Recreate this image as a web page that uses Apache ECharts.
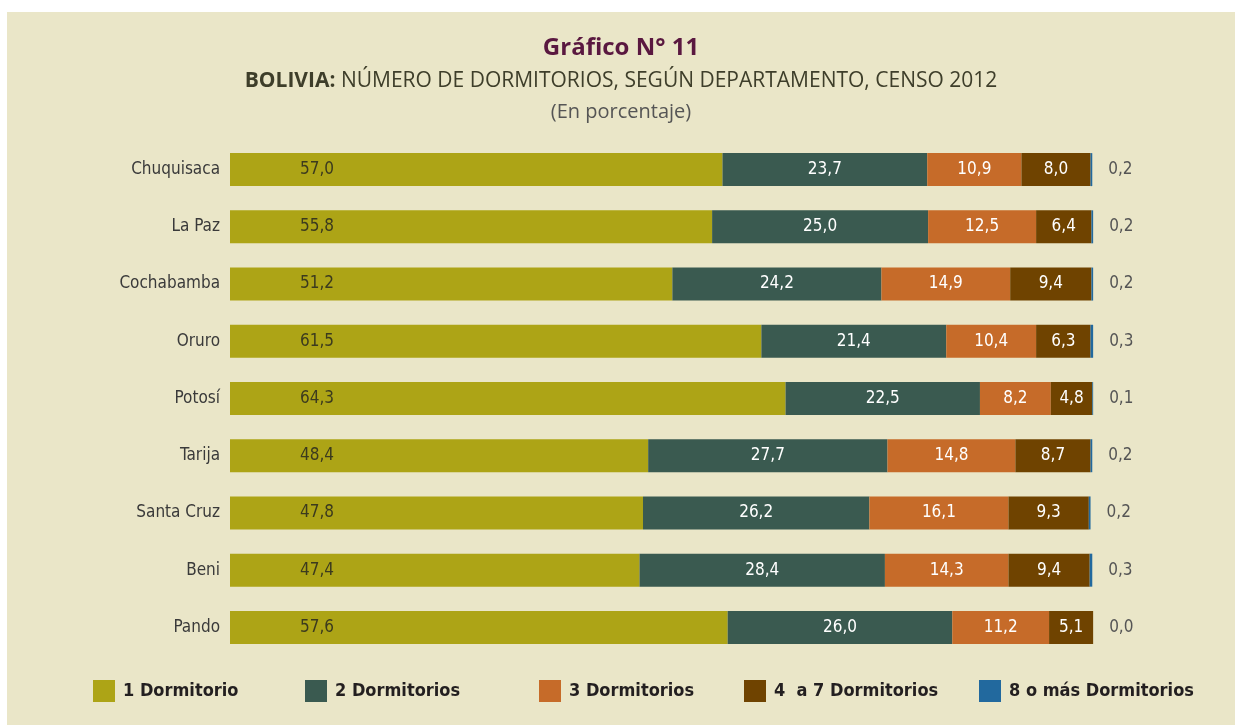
<!DOCTYPE html>
<html><head><meta charset="utf-8">
<script src="https://cdn.jsdelivr.net/npm/echarts@6/dist/echarts.min.js"></script>
<style>html,body{margin:0;padding:0;background:#fff}#c{width:1242px;height:725px}</style>
</head><body><div id="c"></div>
<script>
const categories = ['Chuquisaca','La Paz','Cochabamba','Oruro','Potosí','Tarija','Santa Cruz','Beni','Pando'];
const seriesNames = ['1 Dormitorio','2 Dormitorios','3 Dormitorios','4  a 7 Dormitorios','8 o más Dormitorios'];
const d1 = [57.0,55.8,51.2,61.5,64.3,48.4,47.8,47.4,57.6];
const d2 = [23.7,25.0,24.2,21.4,22.5,27.7,26.2,28.4,26.0];
const d3 = [10.9,12.5,14.9,10.4,8.2,14.8,16.1,14.3,11.2];
const d4 = [8.0,6.4,9.4,6.3,4.8,8.7,9.3,9.4,5.1];
const d5 = [0.2,0.2,0.2,0.3,0.1,0.2,0.2,0.3,0.0];
const colors = ['#ADA416','#3A5A50','#C66B29','#6F4300','#22699E'];

const NARROW = "'Liberation Sans Narrow','DejaVu Sans Condensed',sans-serif";
const fmt = p => p.value.toFixed(1).replace('.', ',');
const data = [d1,d2,d3,d4,d5];
const legendLefts = [88,300,534,739,974];

const series = data.map((d,i) => {
  const lab = {show:true, formatter: fmt, fontFamily: NARROW, fontSize: 17};
  if (i === 0) { Object.assign(lab,{position:'insideLeft', distance:70, color:'#3b3a1e'}); }
  else if (i === 4) { Object.assign(lab,{position:'right', distance:16, color:'#555'}); }
  else { Object.assign(lab,{position:'inside', color:'#fff'}); }
  return {name: seriesNames[i], type:'bar', stack:'t', data:d, barWidth:33,
    itemStyle:{color:colors[i]}, label:lab, emphasis:{disabled:true}};
});

const chart = echarts.init(document.getElementById('c'), null, {renderer:'canvas'});
chart.setOption({
  animation:false,
  graphic:[{type:'rect', z:-10, shape:{x:7,y:12,width:1228,height:713}, style:{fill:'#EAE6C8'}}],
  title:[
    {text:'Gráfico N° 11', left:'center', top:31, textStyle:{fontFamily:"'Open Sans',sans-serif", fontWeight:'bold', fontSize:24, color:'#5A1840'}},
    {text:'{b|BOLIVIA:} NÚMERO DE DORMITORIOS, SEGÚN DEPARTAMENTO, CENSO 2012', left:'center', top:66,
      textStyle:{fontFamily:"'Open Sans',sans-serif", fontWeight:'normal', fontSize:21, color:'#3E3E2A', rich:{b:{fontFamily:"'Open Sans',sans-serif", fontWeight:'bold', fontSize:21, color:'#3E3E2A'}}}},
    {text:'(En porcentaje)', left:'center', top:97, textStyle:{fontFamily:"'Open Sans',sans-serif", fontWeight:'normal', fontSize:20, color:'#555'}}
  ],
  legend: seriesNames.map((n,i)=>({data:[n], left:legendLefts[i], top:675, itemWidth:22, itemHeight:22, itemGap:8,
    selectedMode:false, icon:'rect', textStyle:{fontFamily:NARROW, fontWeight:'bold', fontSize:18, color:'#231f20', padding:[0,0,0,3]}})),
  grid:{left:230, right:148, top:141, bottom:69, containLabel:false},
  xAxis:{type:'value', min:0, max:100, show:false},
  yAxis:{type:'category', data:categories, inverse:true, axisLine:{show:false}, axisTick:{show:false},
    axisLabel:{margin:10, fontFamily:NARROW, fontSize:17, color:'#3a3a3a'}},
  series
});
</script></body></html>
